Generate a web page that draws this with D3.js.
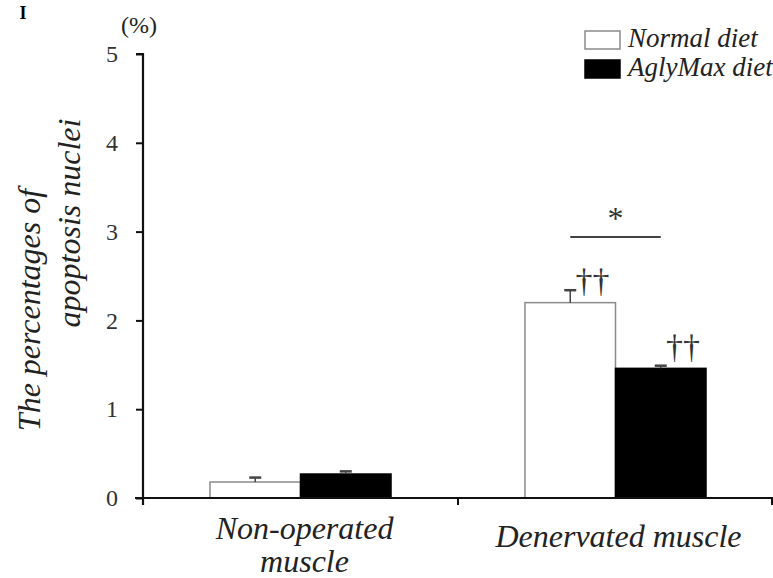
<!DOCTYPE html>
<html>
<head>
<meta charset="UTF-8">
<title>Apoptosis nuclei</title>
<style>
  body { margin: 0; background: #fff; }
</style>
</head>
<body>
<script src="https://cdn.jsdelivr.net/npm/d3@7"></script>
<script>
// data
var groups = ["Non-operated muscle", "Denervated muscle"];
var series = ["Normal diet", "AglyMax diet"];
var normalMean = [0.18, 2.20];
var normalErr = [0.05, 0.14];
var aglyMean = [0.27, 1.46];
var aglyErr = [0.03, 0.03];
var yTicks = [0, 1, 2, 3, 4, 5];

var width = 773, height = 578;
var x0Left = 143, x0Right = 773, yBottom = 498, yTop = 54;
var serif = "Liberation Serif";

var svg = d3.select("body").append("svg")
  .attr("width", width)
  .attr("height", height);

// small helper so every label gets the serif face
function label(x, y, txt, size, italic) {
  return svg.append("text")
    .attr("x", x).attr("y", y)
    .style("font-family", serif)
    .style("font-size", size + "px")
    .style("font-style", italic ? "italic" : "normal")
    .attr("fill", "#222")
    .text(txt);
}

var rows = [];
groups.forEach(function(g, i) {
  rows.push({group: g, series: series[0], value: normalMean[i], err: normalErr[i]});
  rows.push({group: g, series: series[1], value: aglyMean[i], err: aglyErr[i]});
});

var x0 = d3.scaleBand().domain(groups).range([x0Left, x0Right]);
var x1 = d3.scaleBand().domain(series).range([0, x0.bandwidth()]).paddingOuter(0.74);
var y = d3.scaleLinear().domain([0, 5]).range([yBottom, yTop]);
var fill = d3.scaleOrdinal().domain(series).range(["#fff", "#000"]);
var stroke = d3.scaleOrdinal().domain(series).range(["#8a8a8a", "#000"]);

// bars
svg.append("g").selectAll("rect")
  .data(rows)
  .enter().append("rect")
  .attr("x", function(d) { return x0(d.group) + x1(d.series); })
  .attr("y", function(d) { return y(d.value); })
  .attr("width", x1.bandwidth())
  .attr("height", function(d) { return y(0) - y(d.value); })
  .attr("fill", function(d) { return fill(d.series); })
  .attr("stroke", function(d) { return stroke(d.series); })
  .attr("stroke-width", 1.5);

// error bars (upper only)
var eb = svg.append("g").attr("stroke", "#444").attr("stroke-width", 1.5);
rows.forEach(function(d) {
  var cx = x0(d.group) + x1(d.series) + x1.bandwidth() / 2;
  eb.append("line")
    .attr("x1", cx).attr("x2", cx)
    .attr("y1", y(d.value)).attr("y2", y(d.value + d.err));
  eb.append("line")
    .attr("x1", cx - 6).attr("x2", cx + 6)
    .attr("y1", y(d.value + d.err)).attr("y2", y(d.value + d.err))
    .attr("stroke-width", 2.5);
});

// y axis
var yAxis = d3.axisLeft(y).tickValues(yTicks).tickSize(7).tickPadding(18).tickFormat(d3.format("d"));
var gy = svg.append("g").attr("transform", "translate(" + x0Left + ",0)").call(yAxis);
gy.attr("font-family", serif);
gy.select(".domain").attr("stroke", "#111").attr("stroke-width", 2.2)
  .attr("d", "M-7," + yTop + "H0V" + (yBottom + 7));
gy.selectAll(".tick line").attr("stroke", "#111").attr("stroke-width", 2);
gy.selectAll(".tick text")
  .attr("font-family", serif)
  .style("font-family", serif)
  .style("font-size", "24px").attr("fill", "#333");

// x axis: ticks at the group boundaries
var xg = svg.append("g");
xg.append("line")
  .attr("x1", x0Left - 8).attr("x2", x0Right)
  .attr("y1", yBottom).attr("y2", yBottom)
  .attr("stroke", "#111").attr("stroke-width", 2.2);
xg.selectAll(".bt")
  .data(groups.slice(1).concat(["end"]))
  .enter().append("line")
  .attr("x1", function(d) { return d === "end" ? x0Right - 1 : x0(d); })
  .attr("x2", function(d) { return d === "end" ? x0Right - 1 : x0(d); })
  .attr("y1", yBottom).attr("y2", yBottom + 7)
  .attr("stroke", "#111").attr("stroke-width", 2);

// category labels
var catLines = [["Non-operated", "muscle"], ["Denervated muscle"]];
var catBase = [539, 547];
groups.forEach(function(g, i) {
  var cx = x0(g) + x0.bandwidth() / 2 + (i === 0 ? 4 : 3);
  var t = label(cx, catBase[i], null, 32, true).attr("text-anchor", "middle");
  catLines[i].forEach(function(l, j) {
    t.append("tspan")
      .attr("x", cx)
      .attr("dy", j === 0 ? 0 : 33)
      .text(l);
  });
});

// y axis title
label(0, 0, "The percentages of", 32, true)
  .attr("transform", "translate(40,310) rotate(-90)")
  .attr("text-anchor", "middle");
label(0, 0, "apoptosis nuclei", 32, true)
  .attr("transform", "translate(80,223) rotate(-90)")
  .attr("text-anchor", "middle");

label(139, 33, "(%)", 24, false).attr("text-anchor", "middle");

// cut-off panel letter at top left
label(23, 19, "I", 18, false).attr("text-anchor", "middle")
  .style("font-weight", "bold").attr("fill", "#000");

// significance marks
var barRight = function(g, s) { return x0(g) + x1(s) + x1.bandwidth(); };
var bracketY = 2.94;
svg.append("line")
  .attr("x1", x0(groups[1]) + x1(series[0]) + x1.bandwidth() / 2)
  .attr("x2", x0(groups[1]) + x1(series[1]) + x1.bandwidth() / 2)
  .attr("y1", y(bracketY)).attr("y2", y(bracketY))
  .attr("stroke", "#444").attr("stroke-width", 2);
label(x0(groups[1]) + x1(series[1]), y(bracketY) - 8, "*", 32, false)
  .attr("text-anchor", "middle").attr("fill", "#333");
label(barRight(groups[1], series[0]) - 23, y(normalMean[1]) - 11, "††", 34, false)
  .attr("text-anchor", "middle").attr("fill", "#333");
label(barRight(groups[1], series[1]) - 23, y(aglyMean[1]) - 10, "††", 34, false)
  .attr("text-anchor", "middle").attr("fill", "#333");

// legend
var lx = 585, ly = 31;
series.forEach(function(s, i) {
  svg.append("rect")
    .attr("x", lx).attr("y", ly + i * 29)
    .attr("width", 35).attr("height", 18)
    .attr("fill", fill(s))
    .attr("stroke", i === 0 ? "#8a8a8a" : "#000")
    .attr("stroke-width", 1.5);
  label(lx + 43, ly + i * 29 + 16, s, 27, true);
});
</script>
</body>
</html>
